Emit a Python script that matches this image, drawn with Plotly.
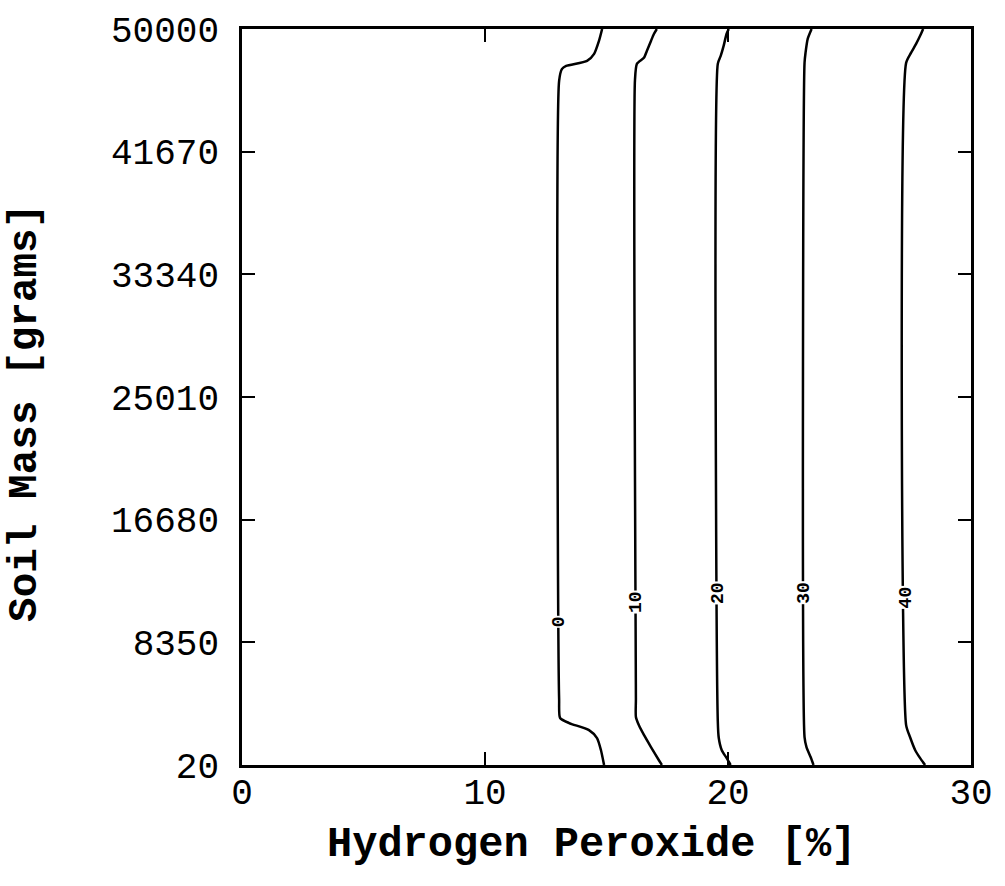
import plotly.graph_objects as go

# Contour levels and their traced paths (x = hydrogen peroxide %, y = soil mass g)
levels = [0, 10, 20, 30, 40]

c0_x = [14.90, 14.77, 14.61, 14.28, 13.46, 13.09, 13.05, 13.05, 13.17, 13.34, 14.20, 14.49, 14.69, 14.82]
c0_y = [20, 1040, 1850, 2390, 2870, 3210, 4500, 46480, 47290, 47490, 47830, 48310, 49190, 50000]

c10_x = [17.28, 17.15, 16.83, 16.54, 16.33, 16.21, 16.21, 16.17, 16.25, 16.54, 16.66, 16.83, 16.95, 17.07]
c10_y = [20, 360, 1240, 2060, 2730, 3280, 4500, 46480, 47630, 48040, 48510, 49190, 49660, 50000]

c20_x = [20.11, 19.94, 19.74, 19.62, 19.58, 19.58, 19.70, 19.82, 19.94, 20.03]
c20_y = [20, 500, 1040, 1850, 3000, 47630, 48170, 48850, 49660, 50000]

c30_x = [23.52, 23.40, 23.23, 23.15, 23.15, 23.19, 23.28, 23.44]
c30_y = [20, 560, 1240, 1920, 47700, 48380, 49330, 50000]

c40_x = [28.11, 27.90, 27.70, 27.49, 27.33, 27.33, 27.53, 27.74, 27.94, 28.03]
c40_y = [20, 500, 1040, 1920, 2730, 47700, 48380, 48990, 49660, 50000]

# Where each level label sits on its line
label_x = [13.05, 16.21, 19.58, 23.15, 27.33]
label_y = [9720, 11080, 11690, 11690, 11410]

x_ticks = [0, 10, 20, 30]
y_ticks = [20, 8350, 16680, 25010, 33340, 41670, 50000]

FONT = "Liberation Mono, Courier New, monospace"

fig = go.Figure()
for xs, ys in [(c0_x, c0_y), (c10_x, c10_y), (c20_x, c20_y), (c30_x, c30_y), (c40_x, c40_y)]:
    fig.add_trace(go.Scatter(x=xs, y=ys, mode="lines",
                             line=dict(color="black", width=2.5, shape="spline", smoothing=0.6),
                             hoverinfo="skip", showlegend=False))

annotations = []
for lv, lx, ly in zip(levels, label_x, label_y):
    annotations.append(dict(x=lx, y=ly, xref="x", yref="y", text=f"<b>{lv}</b>", showarrow=False,
                            textangle=-90, bgcolor="white", borderpad=0,
                            font=dict(family=FONT, size=18, color="black")))

annotations.append(dict(x=0.479, y=-0.1085, xref="paper", yref="paper",
                        text="<b>Hydrogen Peroxide [%]</b>", showarrow=False,
                        xanchor="center", yanchor="middle",
                        font=dict(family=FONT, size=42, color="black")))
annotations.append(dict(x=-0.297, y=0.479, xref="paper", yref="paper",
                        text="<b>Soil Mass [grams]</b>", showarrow=False, textangle=-90,
                        xanchor="center", yanchor="middle",
                        font=dict(family=FONT, size=41, color="black")))

axis_common = dict(showline=True, linecolor="black", linewidth=2.5, mirror="ticks",
                   ticks="inside", ticklen=13, tickwidth=2, tickcolor="black",
                   showgrid=False, zeroline=False,
                   tickfont=dict(family=FONT, size=36, color="black"))

fig.update_layout(
    width=1005, height=886,
    margin=dict(l=242, r=32, t=28, b=121),
    paper_bgcolor="white", plot_bgcolor="white",
    xaxis=dict(range=[0, 30], tickvals=x_ticks, ticktext=[str(v) for v in x_ticks],
               ticklabelstandoff=-7, **axis_common),
    yaxis=dict(range=[20, 50000], tickvals=y_ticks, ticktext=[str(v) for v in y_ticks],
               ticklabelstandoff=13, **axis_common),
    annotations=annotations,
)

fig.write_html("out.html")
